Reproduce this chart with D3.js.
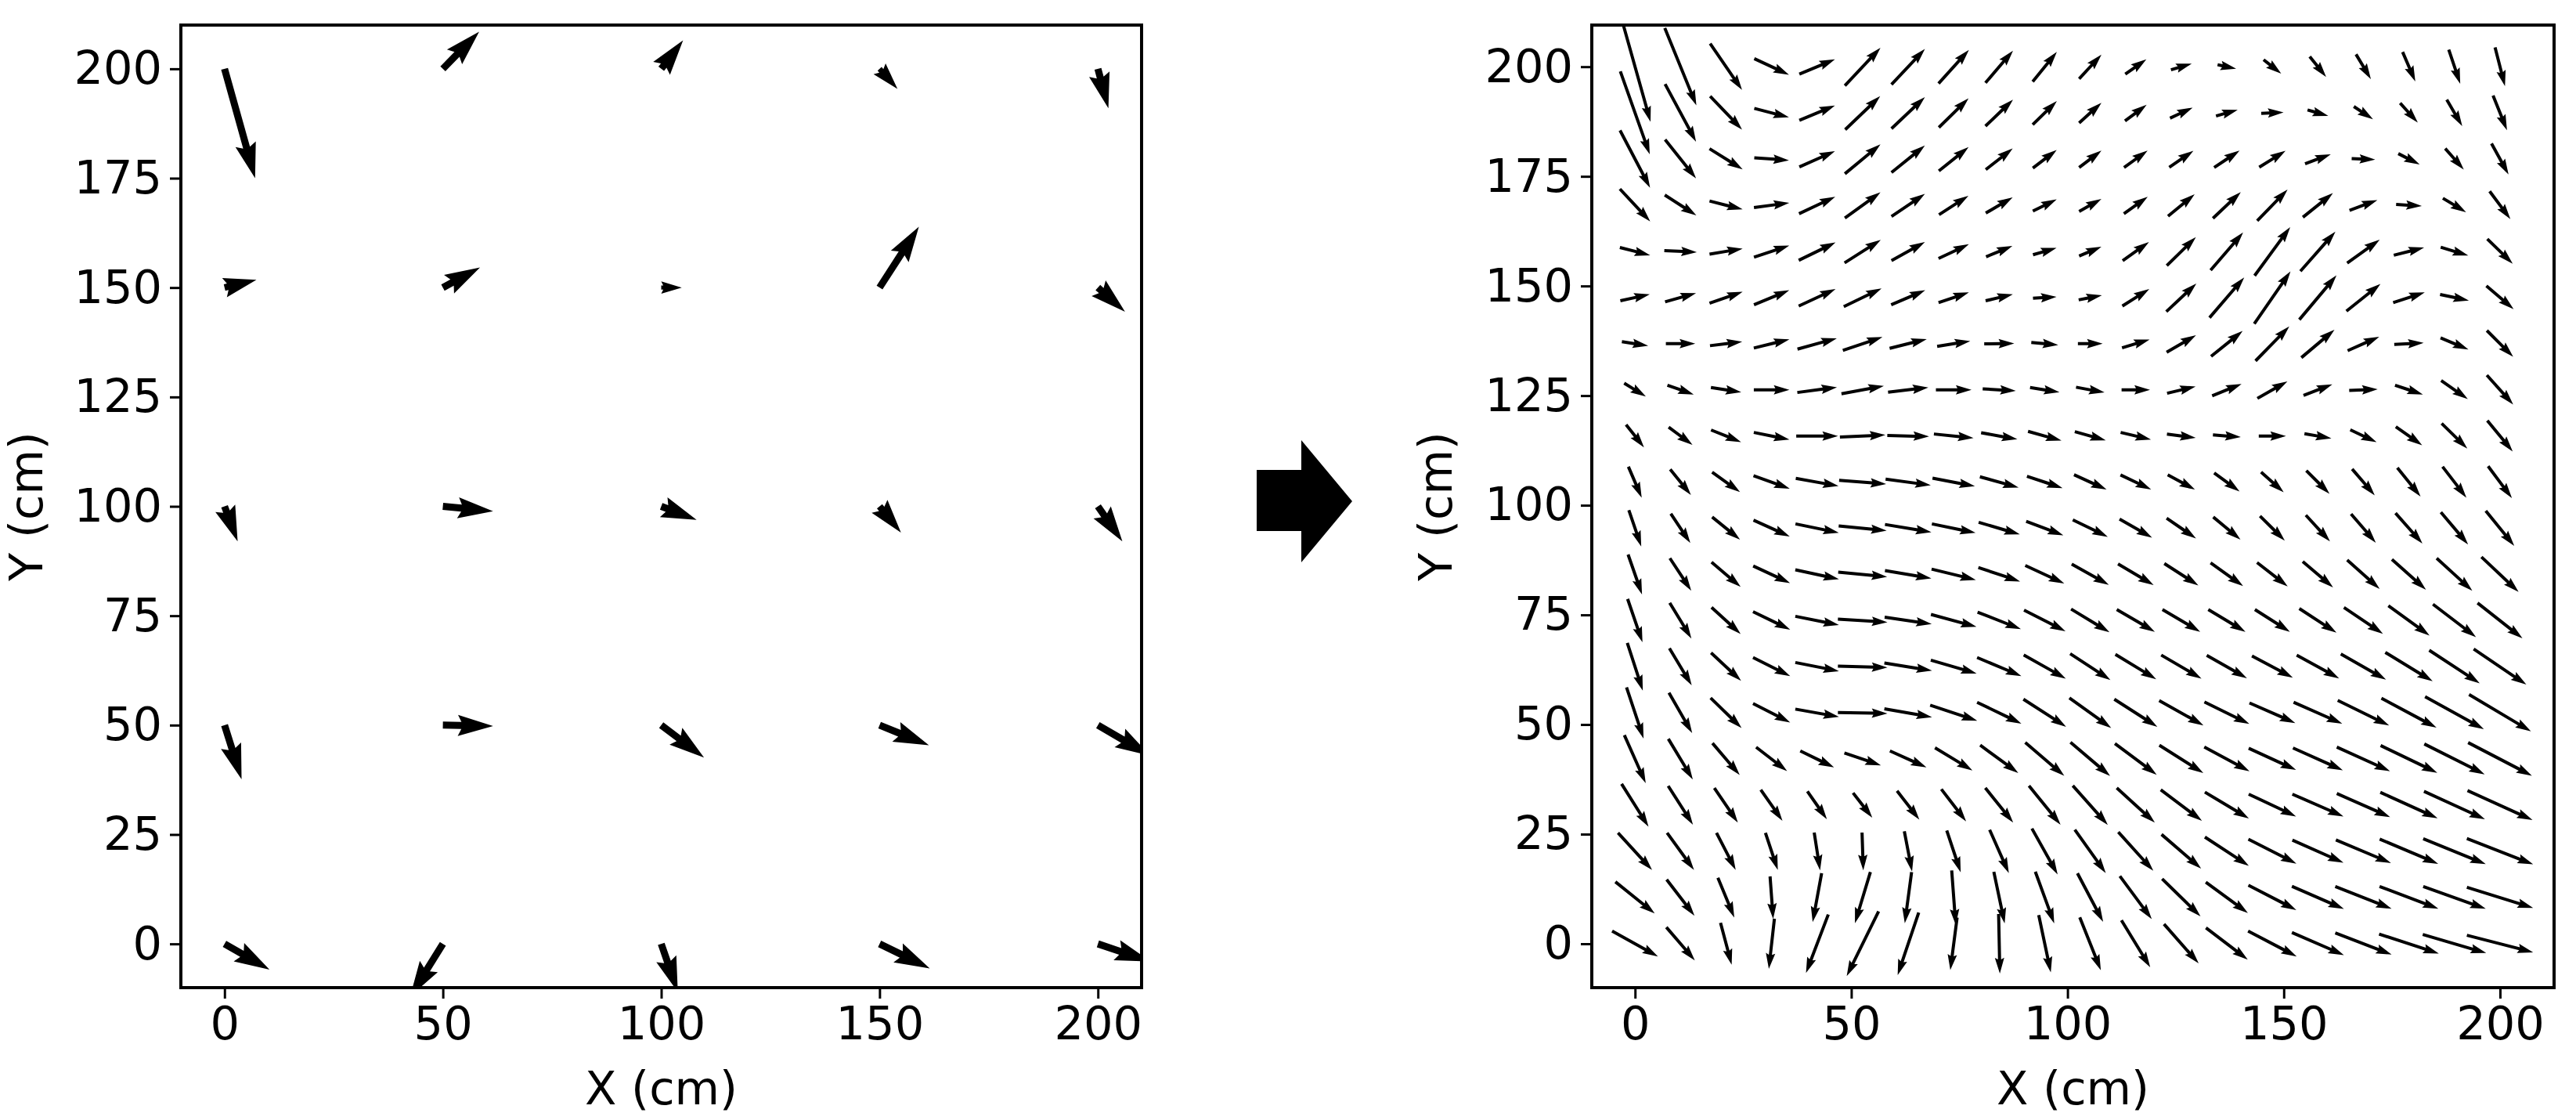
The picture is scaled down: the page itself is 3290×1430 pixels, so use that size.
<!DOCTYPE html>
<html>
<head>
<meta charset="utf-8">
<script src="https://cdn.jsdelivr.net/npm/d3@7"></script>
<style>
  body { margin: 0; background: #fff; }
  text { font-family: "DejaVu Sans", sans-serif; }
</style>
</head>
<body>
<svg id="chart" width="3290" height="1430"></svg>
<script>
// left panel: measured vectors on a 5x5 grid (cm of arrow, tail at grid point)
const gridL = [0, 50, 100, 150, 200];
// rows from y=200 down to y=0, columns x=0..200
const uL = [
  [7, 8.3, 5, 4.1, 2.4],
  [7.3, 8.5, 4.7, 9, 6.2],
  [3, 11.5, 8.1, 4.9, 5.6],
  [3.9, 11.5, 9.8, 11.3, 12],
  [10.3, -7.5, 3.8, 11.5, 12]
];
const vL = [
  [-25, 8.5, 6.5, -4.6, -9],
  [1.8, 4.6, 0, 13.9, -5.5],
  [-8, -1.1, -3.1, -6, -8],
  [-12.4, -0.2, -7.4, -4.6, -7],
  [-5.9, -12, -11, -5.6, -4]
];

// right panel: interpolated field, 20x20 grid from 0 to 200, arrows centred on grid point
const nR = 20;
const gridR = d3.range(nR).map(i => i * 200 / (nR - 1));
// rows from y=200 down to y=0
const uR = [
  [10, 10.2, 10.3, 11.2, 11.5, 11.5, 10.8, 9.8, 8.9, 7.8, 7.2, 6.8, 6.7, 6, 5.7, 5.3, 4.8, 4.1, 3.7, 3.2],
  [9.5, 10, 10.3, 11.2, 11.5, 11.3, 10.8, 9.6, 8.9, 7.8, 7.2, 7, 7.3, 7, 7.2, 6.7, 6.2, 5.7, 5, 4.5],
  [9.7, 10, 10.7, 11.2, 11.5, 11.5, 10.8, 9.6, 8.7, 7.7, 7.2, 7.6, 7.8, 8.2, 8.5, 8.3, 7.6, 6.9, 6, 5.5],
  [9.8, 10.2, 10.7, 11.4, 11.7, 11.5, 10.8, 9.5, 8.7, 7.7, 7.2, 7.7, 8.6, 9, 9.8, 9.7, 9, 8.3, 7.5, 6.7],
  [9.8, 10.5, 10.7, 11.4, 11.9, 11.7, 10.8, 9.8, 8.5, 7.6, 7.2, 8.5, 9.4, 10.5, 11.5, 11.3, 10.5, 9.8, 8.9, 8.2],
  [9.5, 10, 10.7, 11.4, 11.9, 12.2, 11, 9.8, 8.8, 7.6, 7.5, 8.7, 9.7, 11.2, 11.7, 12, 11, 10.2, 9.3, 8.8],
  [8.5, 9.5, 10.4, 11.5, 12.7, 12.8, 12, 10.7, 9.7, 8.7, 8, 8.9, 9.5, 10.2, 10.9, 10.7, 10.2, 9.5, 9, 8.5],
  [7, 8.5, 9.8, 11.5, 12.8, 13.7, 13, 11.5, 10.7, 9.5, 9.2, 9.2, 9.2, 9.5, 9.7, 9.3, 9.2, 9, 8.6, 8.5],
  [5.8, 7.7, 9.7, 11.5, 13.5, 14.7, 13.5, 12.8, 11.7, 10.8, 10, 9.8, 9.3, 9, 8.8, 8.7, 8.5, 8.5, 8.3, 8.2],
  [4.3, 6.7, 9, 11.7, 13.8, 15.2, 14.6, 13.7, 12.5, 11.5, 10.5, 9.9, 8.8, 8.2, 7.3, 7.5, 7.3, 7.5, 7.7, 7.7],
  [4, 6.3, 9, 11.7, 14, 15.5, 15, 14.1, 13.3, 12, 11.3, 10.5, 9.5, 8.8, 8, 7.8, 8, 8.7, 8.8, 9.2],
  [4.5, 6.9, 9.4, 11.9, 14.1, 15.8, 15, 14.3, 13.5, 12.6, 12, 11.5, 11, 10.5, 9.9, 9.8, 10.5, 11, 11.5, 12],
  [4.8, 7, 9.4, 12, 14.1, 16, 15.2, 14.7, 14, 13.4, 12.4, 12.3, 12.2, 12, 11.3, 12, 12.6, 13.3, 13.9, 14.5],
  [5, 7.2, 9.7, 12, 14.1, 16, 15.4, 14.8, 14.3, 13.6, 13, 13.2, 13, 13, 13.2, 13.7, 14.6, 15.3, 16.3, 17],
  [5.5, 7.5, 10, 12, 14.1, 16, 15.4, 15.2, 14.3, 13.8, 13.5, 13.9, 14.3, 14.5, 14.8, 15.7, 16.6, 17.8, 19, 20],
  [6.9, 7.9, 8.8, 10, 10.9, 11.8, 11.8, 12.1, 12.3, 12.6, 12.8, 13.5, 14.2, 14.6, 15.3, 16.1, 17.2, 18.3, 19.5, 20.6],
  [8.7, 8, 7.6, 7, 6.3, 6.2, 7.2, 8, 9, 10.2, 11.3, 12.3, 13.3, 14.2, 15.3, 16.5, 17.2, 18.5, 19.7, 21],
  [11, 8.7, 6.2, 4, 1.9, 0.4, 2.5, 4.5, 6.2, 8.3, 10, 11.3, 12.8, 14.2, 15.5, 16.5, 17.8, 18.9, 20.2, 21.4],
  [12.7, 9, 5.3, 1, -2.9, -5, -2.2, 1.3, 3.5, 6.1, 8.3, 10.3, 12.4, 13.6, 15.5, 16.8, 18.2, 19, 20.2, 21.4],
  [14.8, 9.2, 3.6, -1.8, -7.2, -10.3, -6.8, -2.2, 0.4, 3.9, 6.8, 9.3, 11.2, 13.5, 15.7, 16.8, 18.2, 19.3, 20.5, 21.4]
];
const vR = [
  [-35.6, -25, -15, -5.2, 4.8, 12.2, 11.5, 10.8, 10.4, 9.6, 7.8, 4.8, 2, -1.3, -4.5, -6.6, -8, -9.5, -11, -12.5],
  [-26.8, -18.6, -10.8, -2.9, 4.8, 10.8, 10.2, 9.4, 8.5, 7.6, 6.5, 5.2, 3.4, 2, 0.3, -1.9, -4.1, -6.3, -8.5, -11.2],
  [-18.5, -12.5, -6.7, -0.8, 5.1, 9.5, 8.7, 7.7, 6.8, 5.8, 5.5, 5.5, 5.3, 5.5, 5.3, 3.1, -0.3, -3.5, -6.8, -10],
  [-10.5, -6.6, -2.7, 1.5, 5.5, 8.3, 7.3, 6.1, 5.1, 3.8, 4, 5.5, 7.1, 8.5, 10.1, 7.8, 3.3, -0.5, -4.5, -9],
  [-2.5, -0.5, 1.8, 3.8, 5.8, 7.4, 6, 4.6, 3.5, 2.2, 3, 6, 9.2, 12.2, 15.7, 12.8, 7.5, 2.5, -2.7, -8],
  [2.1, 2.8, 3.7, 4.7, 5.5, 5.9, 4.7, 3.3, 2.1, 0.5, 1.5, 5.5, 9.1, 13, 16.9, 14.3, 8.8, 3.3, -2, -7.5],
  [-1.3, 0, 1.3, 2.8, 3.5, 4.3, 3, 1.7, 0.1, -0.8, 0, 2.7, 5.5, 8.2, 11.1, 9, 4.5, 0.5, -3.8, -8.5],
  [-4.3, -3, -1.5, 0, 1.7, 2.5, 1.5, 0, -0.6, -1.5, -1.7, 0, 2.2, 3.8, 5.5, 3.6, 0.4, -3, -6, -9.5],
  [-7.3, -5.7, -3.9, -2.3, 0, 0.7, -0.3, -1.3, -2.1, -3, -2.8, -2.3, -1.2, -0.7, 0, -1.5, -4, -6, -8.1, -10],
  [-10, -8.3, -6.4, -4.2, -2.5, -1.2, -2, -2.6, -3.5, -3.8, -4.8, -4.7, -4.8, -6, -6.5, -7.5, -8.5, -9.3, -10, -10.3],
  [-11.7, -9.5, -7.3, -5.3, -2.9, -1.5, -2.5, -2.9, -3.9, -4.5, -5.5, -6, -6.5, -7.3, -7.9, -8.5, -9.3, -9.8, -10.4, -11.3],
  [-12.9, -10.5, -8, -5.5, -3, -1.5, -2.5, -3.5, -4.5, -5.8, -6.7, -6.8, -7.1, -7.5, -7.7, -8.3, -9.3, -9.8, -10.5, -11.3],
  [-14, -11.5, -8.6, -5.8, -2.8, -1, -2.2, -4, -5.5, -6.8, -7.5, -7.2, -7.2, -7.2, -7.2, -7.8, -8.5, -9.6, -10.6, -11.4],
  [-15.4, -12, -9, -6, -2.8, -0.5, -2.5, -4.3, -6, -7.6, -8.5, -8, -7.6, -7.4, -7, -7.5, -8.3, -9.3, -10.7, -11.5],
  [-16.5, -13, -9.7, -6.1, -2.5, -0.3, -2.7, -5, -6.9, -8.9, -9.7, -8.9, -8, -7.1, -6.5, -6.9, -8.1, -9.5, -10.5, -11.9],
  [-15.5, -13.1, -10.3, -7.7, -5.3, -4, -5.3, -7.3, -9, -10.8, -10.9, -10.1, -9, -7.8, -7, -7.2, -7.8, -8.8, -9.8, -10.7],
  [-13.8, -12.5, -11.2, -10, -9, -8, -9.3, -10.4, -11.2, -12.6, -12.7, -11.2, -10, -8.5, -7.2, -7.2, -7.6, -8.4, -9, -9.5],
  [-12, -12, -12, -12, -12.2, -12.2, -13, -13.5, -14, -14.8, -14, -12.5, -11, -9.3, -7.9, -7.3, -7.5, -8, -8.2, -8.3],
  [-10.2, -11.7, -12.8, -13.7, -15.8, -16.5, -16.5, -17.5, -16.7, -16.7, -15.7, -13.9, -12.1, -10, -8, -7.3, -7.2, -7.2, -7.2, -6.7],
  [-8.2, -10.7, -13.5, -16.2, -18.9, -20.9, -20.2, -17, -19.2, -18.5, -17.1, -15.2, -12.7, -10.3, -8.2, -7.3, -7, -6.3, -6, -5.5]
];

const yTicks = [0, 25, 50, 75, 100, 125, 150, 175, 200];
const xTicks = [0, 50, 100, 150, 200];

const svg = d3.select('#chart');
const plotTop = 32, plotBottom = 1261;
const fontSize = 59;

const xL = d3.scaleLinear().domain([-10, 210]).range([231, 1458]);
const yL = d3.scaleLinear().domain([-10, 210]).range([plotBottom, plotTop]);
const xR = d3.scaleLinear().domain([-10, 212.5]).range([2033, 3262]);
const yR = d3.scaleLinear().domain([-10, 209.5]).range([plotBottom, plotTop]);
// right-panel vector units -> screen pixels
const arrowScale = d3.scaleLinear().domain([0, 1]).range([0, 3.954]);

// quiver-style arrow polygon, length L along +x
function arrowPath(L, w) {
    let hl = 5 * w, ha = 4.5 * w, hw = 3 * w, sw = w;
    if (L < hl) {
        const k = L / hl;
        hl *= k; ha *= k; hw *= k; sw *= k;
    }
    return d3.line()([
        [0, -sw / 2], [L - ha, -sw / 2], [L - hl, -hw / 2], [L, 0],
        [L - hl, hw / 2], [L - ha, sw / 2], [0, sw / 2]
    ]) + 'Z';
}

function drawAxes(g, x, y, labelPosX) {
    g.append('g')
        .attr('transform', 'translate(0,' + plotBottom + ')')
        .call(d3.axisBottom(x).tickValues(xTicks).tickSize(14).tickPadding(10))
        .call(a => a.select('.domain').remove());
    g.append('g')
        .attr('transform', 'translate(' + x.range()[0] + ',0)')
        .call(d3.axisLeft(y).tickValues(yTicks).tickSize(14).tickPadding(10))
        .call(a => a.select('.domain').remove());
    g.selectAll('.tick line').attr('stroke', '#000').attr('stroke-width', 3);
    g.selectAll('.tick text').attr('font-size', fontSize).attr('fill', '#000')
        .attr('font-family', 'DejaVu Sans');
    g.append('rect')
        .attr('x', x.range()[0]).attr('y', plotTop)
        .attr('width', x.range()[1] - x.range()[0]).attr('height', plotBottom - plotTop)
        .attr('fill', 'none').attr('stroke', '#000').attr('stroke-width', 4);
    g.append('text')
        .attr('x', (x.range()[0] + x.range()[1]) / 2).attr('y', 1410)
        .attr('text-anchor', 'middle').attr('font-size', fontSize).text('X (cm)');
    g.append('text')
        .attr('transform', 'translate(' + labelPosX + ',' + (plotTop + plotBottom) / 2 + ') rotate(-90)')
        .attr('text-anchor', 'middle').attr('font-size', fontSize).text('Y (cm)');
}

// left panel
const gL = svg.append('g');
svg.append('clipPath').attr('id', 'clipL').append('rect')
    .attr('x', 231).attr('y', plotTop).attr('width', 1458 - 231).attr('height', plotBottom - plotTop);
const arrowsL = gL.append('g').attr('clip-path', 'url(#clipL)');
vL.forEach((row, r) => {
    row.forEach((v, c) => {
        const gx = gridL[c], gy = gridL[gridL.length - 1 - r];
        const u = uL[r][c];
        const x0 = xL(gx), y0 = yL(gy);
        const dx = xL(gx + u) - x0, dy = yL(gy + v) - y0;
        const L = Math.hypot(dx, dy);
        const ang = Math.atan2(dy, dx) * 180 / Math.PI;
        arrowsL.append('path')
            .attr('d', arrowPath(L, 9))
            .attr('transform', 'translate(' + x0 + ',' + y0 + ') rotate(' + ang + ')')
            .attr('fill', '#000');
    });
});
drawAxes(gL, xL, yL, 54);

// right panel
const gR = svg.append('g');
svg.append('clipPath').attr('id', 'clipR').append('rect')
    .attr('x', 2033).attr('y', plotTop).attr('width', 3262 - 2033).attr('height', plotBottom - plotTop);
const arrowsR = gR.append('g').attr('clip-path', 'url(#clipR)');
vR.forEach((row, r) => {
    row.forEach((v, c) => {
        const gx = gridR[c], gy = gridR[nR - 1 - r];
        const dx = arrowScale(uR[r][c]), dy = -arrowScale(v);
        const L = Math.hypot(dx, dy);
        const ang = Math.atan2(dy, dx) * 180 / Math.PI;
        arrowsR.append('path')
            .attr('d', arrowPath(L, 4))
            .attr('transform', 'translate(' + xR(gx) + ',' + yR(gy) +
                ') rotate(' + ang + ') translate(' + (-L / 2) + ',0)')
            .attr('fill', '#000');
    });
});
drawAxes(gR, xR, yR, 1854);

// block arrow between the panels
svg.append('path')
    .attr('d', d3.line()([[1605, 600], [1662, 600], [1662, 562], [1727, 640],
        [1662, 718], [1662, 678], [1605, 678]]) + 'Z')
    .attr('fill', '#000');
</script>
</body>
</html>
